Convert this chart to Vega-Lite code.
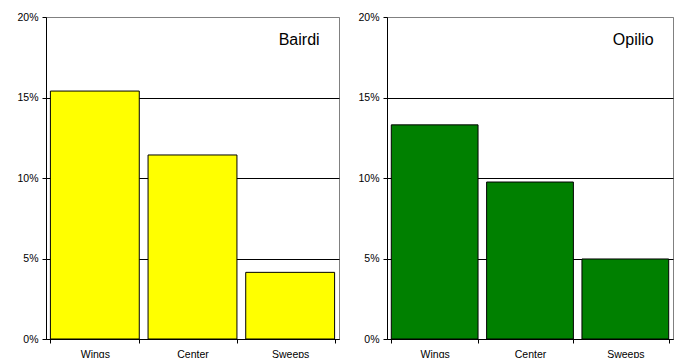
{
  "$schema": "https://vega.github.io/schema/vega-lite/v6.json",
  "autosize": {"type": "pad"},
  "padding": {"left": 16, "top": 11, "right": 0, "bottom": 0},
  "background": "white",
  "spacing": 17,
  "config": {
    "font": "Liberation Sans",
    "view": {"stroke": "#808080", "strokeWidth": 1},
    "axis": {
      "labelFont": "Liberation Sans",
      "labelFontSize": 10.5,
      "labelColor": "#000000",
      "domainColor": "#000000",
      "tickColor": "#000000",
      "tickSize": 4
    }
  },
  "hconcat": [
    {
      "width": 293,
      "height": 322,
      "layer": [
        {
          "data": {"values": [
            {"cat": "Wings", "pct": 0.154},
            {"cat": "Center", "pct": 0.1143},
            {"cat": "Sweeps", "pct": 0.0414}
          ]},
          "mark": {"type": "bar", "fill": "#FFFF00", "stroke": "#000000", "strokeWidth": 1},
          "encoding": {
            "x": {"field": "cat", "type": "nominal", "sort": ["Wings", "Center", "Sweeps"], "title": null,
                  "scale": {"paddingInner": 0.09, "paddingOuter": 0.045},
                  "axis": {"grid": false, "tickBand": "extent", "labelAngle": 0, "labelPadding": 6}},
            "y": {"field": "pct", "type": "quantitative", "title": null,
                  "scale": {"domain": [0, 0.2], "nice": false},
                  "axis": {"values": [0, 0.05, 0.1, 0.15, 0.2], "format": ".0%", "grid": true,
                           "gridColor": {"condition": {"test": "datum.value >= 0.2", "value": "#808080"}, "value": "#000000"},
                           "labelPadding": 4}}
          }
        },
        {
          "data": {"values": [{"cat": "Sweeps", "pct": 0.1826, "label": "Bairdi"}]},
          "mark": {"type": "text", "align": "right", "baseline": "alphabetic", "fontSize": 16, "font": "Liberation Sans", "color": "#000000", "dx": -15},
          "encoding": {
            "x": {"field": "cat", "type": "nominal", "sort": ["Wings", "Center", "Sweeps"], "bandPosition": 1},
            "y": {"field": "pct", "type": "quantitative"},
            "text": {"field": "label"}
          }
        }
      ]
    },
    {
      "width": 286,
      "height": 322,
      "layer": [
        {
          "data": {"values": [
            {"cat": "Wings", "pct": 0.133},
            {"cat": "Center", "pct": 0.0975},
            {"cat": "Sweeps", "pct": 0.0497}
          ]},
          "mark": {"type": "bar", "fill": "#008000", "stroke": "#000000", "strokeWidth": 1},
          "encoding": {
            "x": {"field": "cat", "type": "nominal", "sort": ["Wings", "Center", "Sweeps"], "title": null,
                  "scale": {"paddingInner": 0.09, "paddingOuter": 0.045},
                  "axis": {"grid": false, "tickBand": "extent", "labelAngle": 0, "labelPadding": 6}},
            "y": {"field": "pct", "type": "quantitative", "title": null,
                  "scale": {"domain": [0, 0.2], "nice": false},
                  "axis": {"values": [0, 0.05, 0.1, 0.15, 0.2], "format": ".0%", "grid": true,
                           "gridColor": {"condition": {"test": "datum.value >= 0.2", "value": "#808080"}, "value": "#000000"},
                           "labelPadding": 4}}
          }
        },
        {
          "data": {"values": [{"cat": "Sweeps", "pct": 0.1826, "label": "Opilio"}]},
          "mark": {"type": "text", "align": "right", "baseline": "alphabetic", "fontSize": 16, "font": "Liberation Sans", "color": "#000000", "dx": -15},
          "encoding": {
            "x": {"field": "cat", "type": "nominal", "sort": ["Wings", "Center", "Sweeps"], "bandPosition": 1},
            "y": {"field": "pct", "type": "quantitative"},
            "text": {"field": "label"}
          }
        }
      ]
    }
  ]
}
